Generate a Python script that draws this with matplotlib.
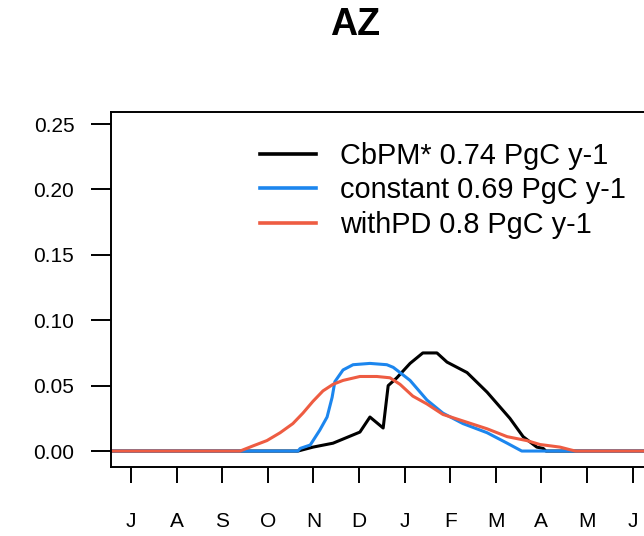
import matplotlib
matplotlib.use("Agg")
import matplotlib.pyplot as plt

plt.rcParams['font.family'] = ['Liberation Sans', 'DejaVu Sans']

# x in Monaten ab Juli (0 = J, 1 = A, ...)
month_labels = ["J", "A", "S", "O", "N", "D", "J", "F", "M", "A", "M", "J"]

cbpm_x = [-0.5, 3.66, 3.99, 4.43, 5.02, 5.24, 5.53, 5.64, 5.83, 6.12, 6.40, 6.71,
          6.93, 7.37, 7.81, 8.31, 8.60, 8.90, 9.04, 9.10, 12.5]
cbpm_y = [0.0, 0.0, 0.003, 0.006, 0.0145, 0.026, 0.0176, 0.050, 0.056, 0.067, 0.075, 0.075,
          0.068, 0.060, 0.045, 0.025, 0.011, 0.003, 0.002, 0.0, 0.0]

const_x = [-0.5, 3.66, 3.71, 3.93, 4.14, 4.30, 4.41, 4.47, 4.65, 4.87, 5.24, 5.61, 5.75,
           5.90, 6.12, 6.49, 6.84, 7.28, 7.81, 8.25, 8.57, 12.5]
const_y = [0.0, 0.0, 0.002, 0.0046, 0.016, 0.026, 0.041, 0.053, 0.062, 0.066, 0.067, 0.066, 0.064,
           0.060, 0.054, 0.039, 0.029, 0.021, 0.014, 0.006, 0.0, 0.0]

pd_x = [-0.5, 2.39, 2.68, 2.98, 3.27, 3.55, 3.77, 3.99, 4.21, 4.43, 4.65, 5.02, 5.39, 5.68,
        5.90, 6.18, 6.49, 6.84, 7.28, 7.81, 8.25, 8.68, 8.97, 9.41, 9.63, 9.75, 12.5]
pd_y = [0.0, 0.0, 0.004, 0.008, 0.014, 0.021, 0.029, 0.038, 0.046, 0.051, 0.054, 0.057, 0.057, 0.056,
        0.051, 0.042, 0.036, 0.028, 0.023, 0.017, 0.011, 0.008, 0.005, 0.003, 0.001, 0.0, 0.0]

labels = ["CbPM* 0.74 PgC y-1", "constant 0.69 PgC y-1", "withPD 0.8 PgC y-1"]
colors = ["black", "#1C86EE", "#EE5C42"]

fig = plt.figure(figsize=(6.44, 5.36), dpi=100)
# Achsenbox rechts abgeschnitten wie im Original
ax = fig.add_axes([111 / 644, 69 / 536, 589 / 644, 355 / 536])

ax.plot(cbpm_x, cbpm_y, color=colors[0], lw=2.2, label=labels[0])
ax.plot(const_x, const_y, color=colors[1], lw=2.2, label=labels[1])
ax.plot(pd_x, pd_y, color=colors[2], lw=2.2, label=labels[2])

ax.set_xlim(-0.44, 12.48)
ax.set_ylim(-0.0122, 0.2592)
ax.set_xticks(range(12))
ax.set_xticklabels(month_labels)
ax.set_yticks([0.0, 0.05, 0.10, 0.15, 0.20, 0.25])
ax.set_yticklabels(["0.00", "0.05", "0.10", "0.15", "0.20", "0.25"])

for s in ax.spines.values():
    s.set_linewidth(1.4)
ax.tick_params(axis='x', direction='out', length=11.5, width=1.4, labelsize=15, pad=21)
ax.tick_params(axis='y', direction='out', length=14.4, width=1.4, labelsize=15, pad=12)

leg = ax.legend(loc='upper left', bbox_to_anchor=(260 / 644, 1 - 142 / 536),
                bbox_transform=fig.transFigure, frameon=False, fontsize=20.8,
                handlelength=1.95, handletextpad=0.83, labelspacing=0.22, borderpad=0,
                borderaxespad=0)
for line in leg.get_lines():
    line.set_linewidth(2.6)

fig.text(355 / 644, 1 - 25 / 536, "AZ", fontsize=27, fontweight='bold',
         ha='center', va='center')

fig.savefig("out.png", dpi=100)
